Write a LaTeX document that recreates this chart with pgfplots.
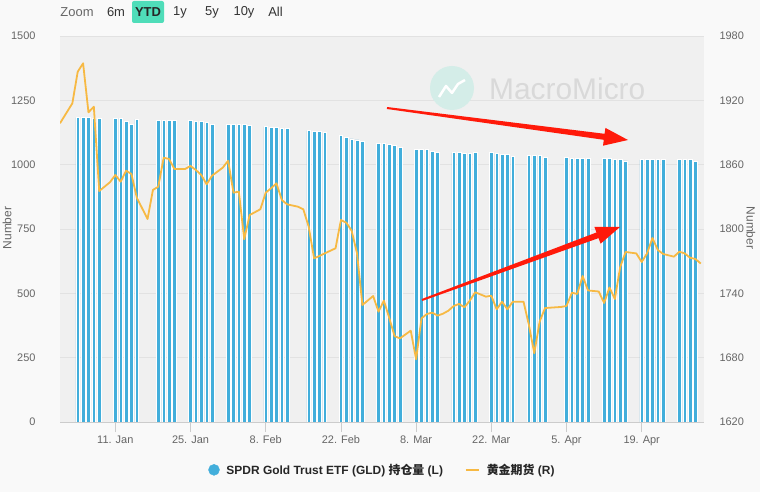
\documentclass[border=0pt]{standalone}
\usepackage{pgfplots}
\usepackage{pgfplotstable}
\pgfplotsset{compat=1.18}
\usepackage{fontspec}
\setmainfont{Liberation Sans}
\newfontfamily\cjk{Noto Sans CJK SC}
\definecolor{gldblue}{HTML}{42AEDB}
\definecolor{goldc}{HTML}{F7B943}
\definecolor{plotbg}{HTML}{F0F0F0}
\definecolor{outbg}{HTML}{F9F9F9}
\definecolor{gridc}{HTML}{E2E2E2}
\definecolor{labc}{HTML}{666666}
\definecolor{axc}{HTML}{CCCCCC}
\definecolor{btnc}{HTML}{4FDDB9}
\definecolor{wmc}{HTML}{D9D9D9}
\definecolor{logoc}{HTML}{D4EDE8}
\definecolor{arrc}{HTML}{FF1A0A}

% GLD holdings (tonnes); d = days since 1 Jan 2021
\pgfplotstableread{
d v
3 1183
4 1183
5 1183
6 1179
7 1179
10 1180
11 1180
12 1167
13 1158
14 1176
18 1171
19 1171
20 1171
21 1171
24 1171
25 1167
26 1167
27 1163
28 1156
31 1156
32 1156
33 1156
34 1156
35 1152
38 1148
39 1144
40 1144
41 1140
42 1140
46 1132
47 1128
48 1128
49 1124
52 1113
53 1105
54 1100
55 1096
56 1089
59 1082
60 1082
61 1078
62 1074
63 1066
66 1058
67 1058
68 1058
69 1051
70 1047
73 1047
74 1047
75 1043
76 1043
77 1047
80 1047
81 1043
82 1039
83 1039
84 1031
87 1035
88 1035
89 1035
90 1027
94 1027
95 1023
96 1023
97 1023
98 1023
101 1023
102 1023
103 1019
104 1019
105 1015
108 1019
109 1019
110 1019
111 1019
112 1019
115 1019
116 1019
117 1019
118 1012
}\gldtable

% Gold futures
\pgfplotstableread{
d v
-0.3 1898.6
2 1917.2
3 1946.7
4 1954.5
5 1908.8
6 1914.1
7 1835.4
9 1843.6
10 1850.4
11 1844.1
12 1854.4
13 1851.3
14 1829.2
16 1809.3
17 1836.4
18 1839.5
19 1866.5
20 1865.3
21 1856.0
23 1856.0
24 1858.8
25 1855.0
26 1850.4
27 1841.7
28 1849.7
30 1857.2
31 1863.7
32 1833.9
33 1834.8
34 1790.4
35 1813.0
37 1818.4
38 1833.9
39 1838.0
40 1842.6
41 1827.0
42 1823.0
44 1820.8
45 1818.4
46 1802.2
47 1772.7
48 1774.8
49 1777.3
51 1782.0
52 1808.4
53 1805.9
54 1798.4
55 1777.3
56 1729.1
58 1737.5
59 1722.9
60 1733.2
61 1717.0
62 1700.0
63 1698.0
65 1705.2
66 1678.5
67 1716.7
68 1720.7
69 1722.0
70 1719.2
71 1721.0
72 1723.8
73 1728.2
74 1730.1
75 1727.0
76 1733.2
77 1741.0
79 1736.9
80 1737.8
81 1725.1
82 1732.2
83 1725.1
84 1732.2
86 1732.2
87 1710.5
88 1684.1
89 1713.6
90 1726.3
93 1727.3
94 1728.2
95 1740.6
96 1739.4
97 1756.2
98 1742.7
100 1741.7
101 1731.0
102 1745.5
103 1734.7
104 1764.6
105 1778.6
107 1777.2
108 1769.2
109 1777.3
110 1791.6
111 1780.4
112 1776.7
114 1774.2
115 1778.8
116 1777.3
117 1773.2
118 1772.0
119 1767.8
}\goldtable

\begin{document}
\begin{tikzpicture}
\fill[outbg] (0,0) rectangle (760bp,492bp);
\useasboundingbox (0,0) rectangle (760bp,492bp);

\begin{axis}[
  at={(60bp,70bp)}, anchor=south west,
  scale only axis, width=644bp, height=386bp,
  xmin=-0.3, xmax=119.6, ymin=0, ymax=1500,
  axis background/.style={fill=plotbg},
  axis x line*=bottom, axis y line*=left,
  x axis line style={draw=axc, line width=0.8bp, -},
  y axis line style={draw=none},
  xtick={10,24,38,52,66,80,94,108},
  xticklabels={11. Jan,25. Jan,8. Feb,22. Feb,8. Mar,22. Mar,5. Apr,19. Apr},
  ytick={0,250,...,1500},
  ymajorgrids, grid style={draw=gridc, line width=0.8bp},
  tick align=outside, major tick length=10bp,
  xtick style={draw=axc, line width=0.8bp},
  ytick style={draw=none},
  tick label style={font=\fontsize{11}{13}\selectfont, text=labc},
  /pgf/number format/assume math mode=true,
  /pgf/number format/1000 sep={},
  yticklabel style={xshift=-11bp},
]
\addplot[ybar, bar width=0.68, fill=gldblue, draw=white, line width=0.6bp] table[x=d,y=v]{\gldtable};
\end{axis}

\begin{scope}[x=1bp,y=-1bp,yshift=492bp]
  % header
  \node[font=\fontsize{13}{15}\selectfont, text=labc] at (77,12) {Zoom};
  \node[font=\fontsize{13}{15}\selectfont, text=black!80] at (116,12) {6m};
  \fill[btnc, rounded corners=2bp] (132,1) rectangle (164,23);
  \node[font=\bfseries\fontsize{13}{15}\selectfont, text=black!85] at (148,12) {YTD};
  \node[font=\fontsize{13}{15}\selectfont, text=black!80] at (180,12) {1y};
  \node[font=\fontsize{13}{15}\selectfont, text=black!80] at (212,12) {5y};
  \node[font=\fontsize{13}{15}\selectfont, text=black!80] at (244,12) {10y};
  \node[font=\fontsize{13}{15}\selectfont, text=black!80] at (275.5,12) {All};
  % watermark
  \fill[logoc] (452,88) circle (22bp);
  \draw[white, line width=2.5bp, line join=round] (439,97)--(446,86)--(452,93)--(458,84)--(465,80);
  \node[font=\fontsize{30}{32}\selectfont, text=wmc, anchor=west, inner sep=0pt] at (489,89) {MacroMicro};
  % axis titles
  \node[rotate=90, font=\fontsize{12}{14}\selectfont, text=labc] at (7,228) {Number};
  \node[rotate=-90, font=\fontsize{12}{14}\selectfont, text=labc] at (751,228) {Number};
\end{scope}

\begin{axis}[
  at={(60bp,70bp)}, anchor=south west,
  scale only axis, width=644bp, height=386bp,
  xmin=-0.3, xmax=119.6, ymin=1620, ymax=1980,
  axis y line*=right, axis x line=none,
  y axis line style={draw=none},
  ytick={1620,1680,...,1980},
  ytick style={draw=none},
  tick label style={font=\fontsize{11}{13}\selectfont, text=labc},
  /pgf/number format/assume math mode=true,
  /pgf/number format/1000 sep={},
  yticklabel style={xshift=12bp},
  legend style={at={(0.5008,-0.124)}, anchor=center, draw=none, fill=none,
    font=\bfseries\fontsize{12}{14}\selectfont, text=black!85,
    legend columns=2, inner sep=0pt,
    /tikz/every odd column/.append style={column sep=5bp},
    /tikz/every even column/.append style={column sep=20bp}},
  legend cell align=left,
]
\addlegendimage{only marks, mark=*, mark size=5.5bp, mark options={fill=gldblue, draw=gldblue}}
\addlegendentry{SPDR Gold Trust ETF (GLD) {\cjk 持仓量} (L)}
\addplot[goldc, line width=1.8bp, line join=round, mark=none,
  legend image code/.code={\draw[goldc, line width=1.8bp] (0bp,0bp) -- (13bp,0bp);}]
  table[x=d,y=v]{\goldtable};
\addlegendentry{{\cjk 黄金期货} (R)}
\end{axis}

\begin{scope}[x=1bp,y=-1bp,yshift=492bp]
  \fill[arrc] (387.13,107.01) -- (604.6,133.8) -- (605.4,127.9) -- (628,140) -- (603.0,145.7) -- (603.8,139.8) -- (386.87,108.99) -- cycle;
  \fill[arrc] (421.65,299.06) -- (596.46,232.48) -- (594.4,226.9) -- (620,227) -- (600.6,243.7) -- (598.54,238.12) -- (422.35,300.94) -- cycle;
\end{scope}
\end{tikzpicture}
\end{document}
